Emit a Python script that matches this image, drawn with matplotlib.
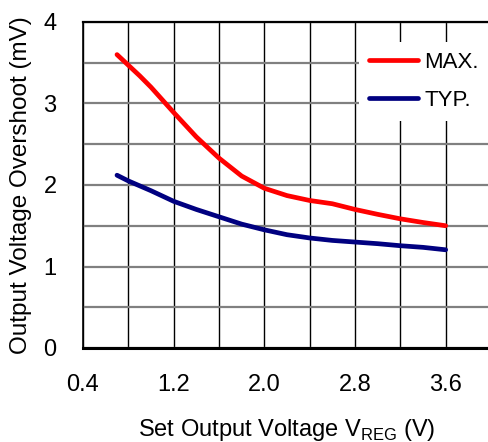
import numpy as np
import matplotlib
matplotlib.use("Agg")
import matplotlib.pyplot as plt

plt.rcParams["font.family"] = ["Liberation Sans", "DejaVu Sans"]
plt.rcParams["mathtext.fontset"] = "custom"
plt.rcParams["mathtext.rm"] = "Liberation Sans"

# Set output voltage (V)
v_reg = [0.7, 0.8, 0.9, 1.0, 1.2, 1.4, 1.6, 1.8, 2.0, 2.2, 2.4, 2.6, 2.8, 3.0, 3.2, 3.4, 3.6]
# Output voltage overshoot (mV)
overshoot_max = [3.60, 3.47, 3.34, 3.20, 2.89, 2.59, 2.33, 2.11, 1.96, 1.87, 1.81, 1.77,
                 1.70, 1.64, 1.585, 1.54, 1.50]
overshoot_typ = [2.12, 2.05, 1.99, 1.93, 1.80, 1.70, 1.61, 1.52, 1.45, 1.39, 1.35, 1.32,
                 1.30, 1.28, 1.255, 1.235, 1.205]

x_major = [0.4, 1.2, 2.0, 2.8, 3.6]
x_minor = [0.8, 1.6, 2.4, 3.2]
y_major = [0, 1, 2, 3, 4]
y_minor = [0.5, 1.5, 2.5, 3.5]

fig = plt.figure(figsize=(4.89, 4.42), dpi=100)
ax = fig.add_axes([83 / 489, 1 - 348 / 442, (491 - 83) / 489, (348 - 22) / 442])

ax.plot(v_reg, overshoot_max, color="#ff0000", lw=3.4, label="MAX.",
        solid_capstyle="round", zorder=3)
ax.plot(v_reg, overshoot_typ, color="#000080", lw=3.4, label="TYP.",
        solid_capstyle="round", zorder=3)

ax.set_xlim(0.4, 4.0)
ax.set_ylim(0, 4)
ax.set_xticks(x_major)
ax.set_xticks(x_minor, minor=True)
ax.set_xticklabels(["0.4", "1.2", "2.0", "2.8", "3.6"])
ax.set_yticks(y_major)
ax.set_yticks(y_minor, minor=True)

ax.grid(which="both", axis="x", color="black", lw=1.0)
ax.grid(which="both", axis="y", color="#808080", lw=1.6)
ax.set_axisbelow(True)

ax.tick_params(which="both", length=0, labelsize=17)
ax.tick_params(axis="x", pad=19)
ax.tick_params(axis="y", pad=19)

ax.spines["right"].set_visible(False)
ax.spines["left"].set_linewidth(1.2)
ax.spines["top"].set_linewidth(1.6)
ax.spines["bottom"].set_linewidth(2.2)
for s in ax.spines.values():
    s.set_color("black")

ax.set_xlabel("Set Output Voltage V$_{\\mathrm{REG}}$ (V)", fontsize=17, labelpad=15)
ax.set_ylabel("Output Voltage Overshoot (mV)", fontsize=17.5, labelpad=8)

leg = ax.legend(loc="upper right", bbox_to_anchor=(1.0, 1 - 42 / 442),
                bbox_transform=fig.transFigure, borderaxespad=0,
                fontsize=16, frameon=True, fancybox=False, framealpha=1,
                edgecolor="none", facecolor="white", handlelength=2.2,
                handletextpad=0.3, labelspacing=0.75, borderpad=0.45)

fig.savefig("out.png", dpi=100)
